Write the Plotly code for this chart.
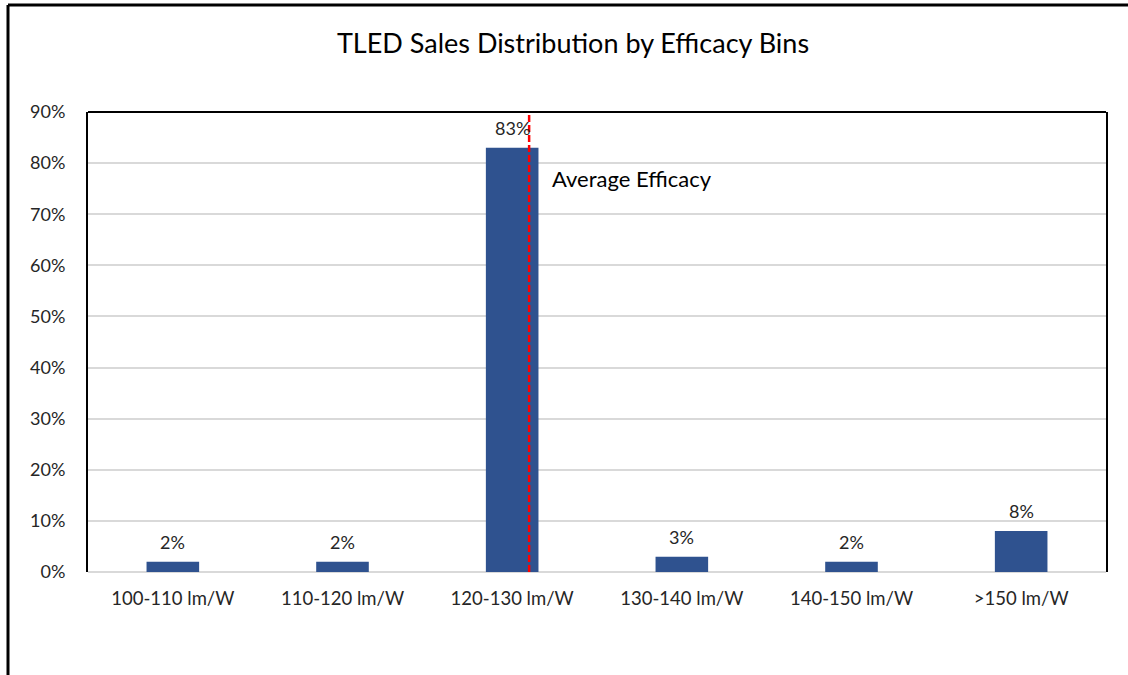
import plotly.graph_objects as go

# Efficacy bins and their share of TLED sales
categories = ["100-110 lm/W", "110-120 lm/W", "120-130 lm/W",
              "130-140 lm/W", "140-150 lm/W", ">150 lm/W"]
shares = [2, 2, 83, 3, 2, 8]
bin_lower_edges = [100, 110, 120, 130, 140, 150]
bin_step = 10
avg_efficacy = 126  # lm/W

y_ticks = [0, 10, 20, 30, 40, 50, 60, 70, 80, 90]
y_tick_labels = [f"{v}%" for v in y_ticks]

FONT = "Lato, Calibri, Carlito, sans-serif"
BAR_COLOR = "#2F528F"

W, H = 1128, 675
L, R, T, B = 88, 22, 112, 103

x_idx = list(range(len(categories)))
# position of the average on the category axis (bins centred on integers)
avg_pos = (avg_efficacy - bin_lower_edges[0]) / bin_step - 0.5

fig = go.Figure()
fig.add_trace(go.Bar(
    x=x_idx, y=shares,
    marker=dict(color=BAR_COLOR, line=dict(width=0)),
    hoverinfo="skip",
))

# value labels above the bars
for xi, v in zip(x_idx, shares):
    fig.add_annotation(x=xi, y=v, xref="x", yref="y", text=f"{v}%",
                       showarrow=False, yanchor="bottom", yshift=7,
                       font=dict(family=FONT, size=18, color="#262626"))

fig.update_layout(
    width=W, height=H,
    margin=dict(l=L, r=R, t=T, b=B),
    paper_bgcolor="white", plot_bgcolor="white",
    bargap=0.69,
    showlegend=False,
    font=dict(family=FONT, color="#262626"),
    title=dict(text="TLED Sales Distribution by Efficacy Bins",
               x=0.508, xanchor="center", y=1 - 44 / H, yanchor="middle",
               font=dict(family=FONT, size=27, color="#000000")),
)

fig.update_xaxes(
    range=[-0.5, len(categories) - 0.5],
    tickmode="array", tickvals=x_idx, ticktext=categories,
    tickfont=dict(family=FONT, size=18.5, color="#262626"),
    showgrid=False, zeroline=False, showline=False, ticks="",
    ticklabelstandoff=13,
)
fig.update_yaxes(
    range=[0, 90],
    tickmode="array", tickvals=y_ticks, ticktext=y_tick_labels,
    tickfont=dict(family=FONT, size=18, color="#262626"),
    showgrid=True, gridcolor="#D9D9D9", gridwidth=1.5,
    zeroline=True, zerolinecolor="#D9D9D9", zerolinewidth=1.5,
    showline=True, linecolor="black", linewidth=2, mirror=True,
    ticks="", ticklabelstandoff=17,
)

# top border of the plot area
fig.add_shape(type="line", xref="paper", yref="paper",
              x0=0, x1=1, y0=1, y1=1, line=dict(color="black", width=2))

# average efficacy marker
fig.add_shape(type="line", xref="x", yref="paper",
              x0=avg_pos, x1=avg_pos, y0=0, y1=1,
              line=dict(color="#FF0000", width=2.5, dash="7px,3px"))
fig.add_annotation(x=avg_pos, y=77, xref="x", yref="y",
                   text="Average Efficacy", showarrow=False,
                   xanchor="left", xshift=21, yanchor="middle",
                   font=dict(family=FONT, size=22, color="#000000"))

# outer frame of the chart
fig.add_shape(type="line", xref="paper", yref="paper",
              x0=(8 - L) / (W - L - R), x1=(W - L) / (W - L - R),
              y0=(H - 5 - B) / (H - T - B), y1=(H - 5 - B) / (H - T - B),
              line=dict(color="black", width=3))
fig.add_shape(type="line", xref="paper", yref="paper",
              x0=(8 - L) / (W - L - R), x1=(8 - L) / (W - L - R),
              y0=(H - 5 - B) / (H - T - B), y1=-B / (H - T - B),
              line=dict(color="black", width=3))

fig.write_html("out.html")
